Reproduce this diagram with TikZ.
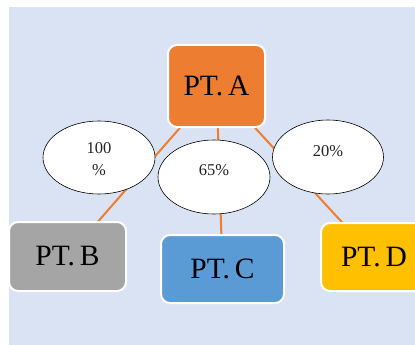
\documentclass[tikz,border=0pt]{standalone}
\usepackage{fontspec}
\setmainfont{Liberation Serif}
\usetikzlibrary{shapes.geometric}
\definecolor{bgc}{HTML}{DAE3F3}
\definecolor{orA}{HTML}{ED7D31}
\definecolor{grB}{HTML}{A5A5A5}
\definecolor{blC}{HTML}{5B9BD5}
\definecolor{ylD}{HTML}{FFC000}
\definecolor{txt}{HTML}{222222}
\tikzset{
  ptbox/.style={rectangle, rounded corners=9pt, draw=white, line width=2pt,
    inner sep=0pt, font=\fontsize{29.5}{32}\selectfont, text=black},
  pctell/.style={ellipse, draw=black, line width=0.6pt, fill=white, inner sep=0pt,
    minimum width=112pt, minimum height=74pt},
  pcttxt/.style={font=\fontsize{16.5}{22}\selectfont, text=txt, align=center, inner sep=0pt},
  link/.style={draw=orA, line width=2pt}
}
\begin{document}
\begin{tikzpicture}[x=1pt,y=-1pt]
\useasboundingbox (0,0) rectangle (415,345);
\clip (0,0) rectangle (415,345);
\fill[bgc] (9,7) rectangle (415,345);
\coordinate (cA) at (216.5,86);
\coordinate (cB) at (67.5,256.5);
\coordinate (cC) at (222.5,269);
\coordinate (cD) at (374,257);
\draw[link] (cA) -- (cB);
\draw[link] (cA) -- (cC);
\draw[link] (cA) -- (cD);
\node[ptbox, fill=orA, minimum width=97pt, minimum height=82pt] (A) at (cA) {PT.\,A};
\node[ptbox, fill=grB, minimum width=117pt, minimum height=69pt] (B) at (cB) {PT.\,B};
\node[ptbox, fill=blC, minimum width=123pt, minimum height=68pt] (C) at (cC) {PT.\,C};
\node[ptbox, fill=ylD, minimum width=106pt, minimum height=68pt] (D) at (cD) {PT.\,D};
\node[pctell, minimum width=112pt, minimum height=73pt] (E1) at (99,157.5) {};
\node[pctell] (E2) at (214,177) {};
\node[pctell, minimum width=111pt] (E3) at (328,157) {};
\node[pcttxt] (L1) at (99,159) {100\\\%};
\node[pcttxt] (L2) at (214,170) {65\%};
\node[pcttxt] (L3) at (328,151) {20\%};
\end{tikzpicture}
\end{document}
